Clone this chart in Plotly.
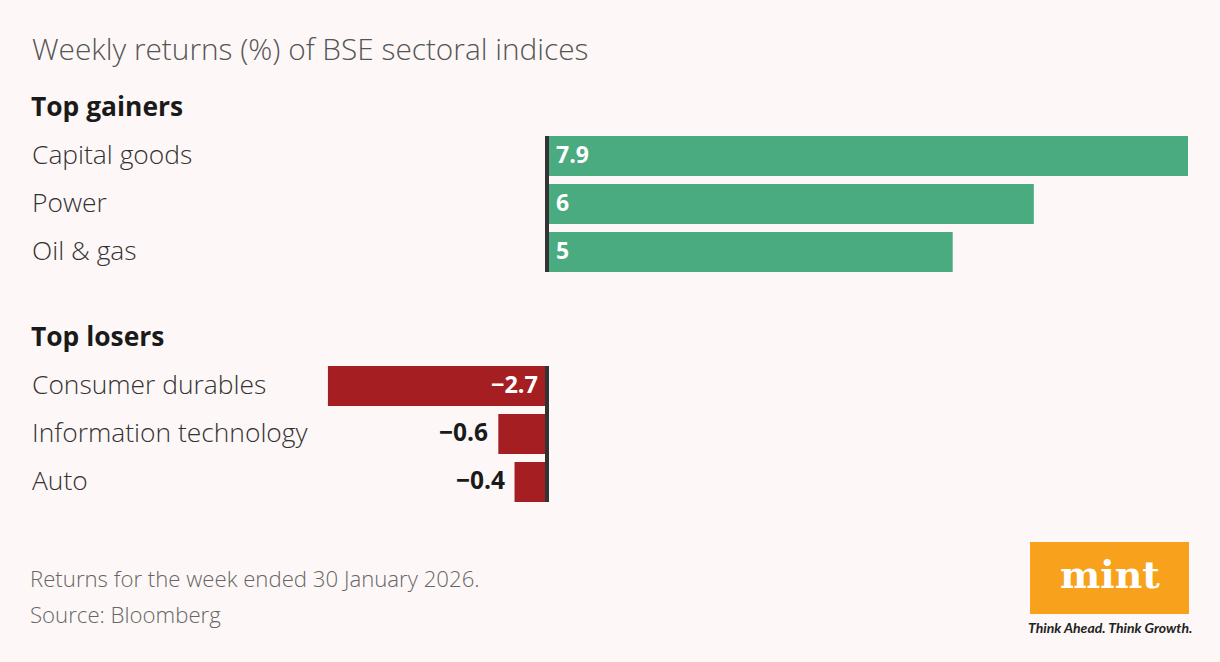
import plotly.graph_objects as go

W, H = 1220, 662

gainers = ["Capital goods", "Power", "Oil & gas"]
gainer_values = [7.9, 6, 5]
losers = ["Consumer durables", "Information technology", "Auto"]
loser_values = [-2.7, -0.6, -0.4]

title = "Weekly returns (%) of BSE sectoral indices"
note = "Returns for the week ended 30 January 2026."
source = "Source: Bloomberg"

BG = "#fdf8f7"
GREEN = "#4aab80"
RED = "#a41e22"
FONT = "Open Sans"


def px(x):
    return x / W


def py(y):
    return 1 - y / H


def fmt(v):
    s = ("%g" % abs(v))
    return ("\u2212" + s) if v < 0 else s


fig = go.Figure()
fig.add_trace(go.Bar(y=gainers, x=gainer_values, orientation="h", marker_color=GREEN,
                     marker_line_width=0,
                     xaxis="x", yaxis="y", hoverinfo="skip", showlegend=False))
fig.add_trace(go.Bar(y=losers, x=loser_values, orientation="h", marker_color=RED,
                     marker_line_width=0,
                     xaxis="x2", yaxis="y2", hoverinfo="skip", showlegend=False))

# x scale: 0 at 547 px, 7.9 at 1188 px
scale = (1188 - 547) / 7.9
xr = [-547 / scale, (W - 547) / scale]

xcommon = dict(range=xr, domain=[0, 1], showgrid=False, showticklabels=False,
               showline=False, zeroline=False, fixedrange=True)
ycommon = dict(range=[2.4167, -0.4167], showgrid=False, showticklabels=False,
               showline=False, zeroline=False, ticks="", fixedrange=True)

annotations = []
annotations.append(dict(text=title, x=px(30), y=py(48), xref="paper", yref="paper",
                        xanchor="left", yanchor="middle", showarrow=False,
                        font=dict(family=FONT, size=29.8, color="#555555", weight=300)))
annotations.append(dict(text="<b>Top gainers</b>", x=px(29), y=py(106), xref="paper", yref="paper",
                        xanchor="left", yanchor="middle", showarrow=False,
                        font=dict(family=FONT, size=26.4, color="#1a1a1a")))
annotations.append(dict(text="<b>Top losers</b>", x=px(29), y=py(336), xref="paper", yref="paper",
                        xanchor="left", yanchor="middle", showarrow=False,
                        font=dict(family=FONT, size=26.4, color="#1a1a1a")))

for cats, vals, xa, ya in [(gainers, gainer_values, "x", "y"), (losers, loser_values, "x2", "y2")]:
    for c, v in zip(cats, vals):
        annotations.append(dict(text=c, x=px(29.5), y=c, xref="paper", yref=ya,
                                xanchor="left", yanchor="middle", yshift=2, showarrow=False,
                                font=dict(family=FONT, size=26.4, color="#333333", weight=300)))
        if v >= 0:
            annotations.append(dict(text="<b>%s</b>" % fmt(v), x=0, y=c, xref=xa, yref=ya,
                                    xanchor="left", yanchor="middle", xshift=7, yshift=2,
                                    showarrow=False,
                                    font=dict(family=FONT, size=23, color="white")))
        elif abs(v) > 1:
            annotations.append(dict(text="<b>%s</b>" % fmt(v), x=0, y=c, xref=xa, yref=ya,
                                    xanchor="right", yanchor="middle", xshift=-7, yshift=2,
                                    showarrow=False,
                                    font=dict(family=FONT, size=23.5, color="white")))
        else:
            annotations.append(dict(text="<b>%s</b>" % fmt(v), x=v, y=c, xref=xa, yref=ya,
                                    xanchor="right", yanchor="middle", xshift=-8, yshift=2,
                                    showarrow=False,
                                    font=dict(family=FONT, size=24.5, color="#1a1a1a")))

annotations.append(dict(text=note, x=px(28), y=py(578), xref="paper", yref="paper",
                        xanchor="left", yanchor="middle", showarrow=False,
                        font=dict(family=FONT, size=22.2, color="#666666", weight=300)))
annotations.append(dict(text=source, x=px(28), y=py(614), xref="paper", yref="paper",
                        xanchor="left", yanchor="middle", showarrow=False,
                        font=dict(family=FONT, size=22.2, color="#666666", weight=300)))

# logo
annotations.append(dict(text="<b>mint</b>", x=px(1110), y=py(574), xref="paper", yref="paper",
                        xanchor="center", yanchor="middle", showarrow=False,
                        font=dict(family="DejaVu Serif", size=38, color="white")))
annotations.append(dict(text="<b><i>Think Ahead. Think Growth.</i></b>", x=px(1110), y=py(627),
                        xref="paper", yref="paper", xanchor="center", yanchor="middle",
                        showarrow=False, font=dict(family="Lato", size=14, color="#222222")))

shapes = [
    dict(type="rect", xref="paper", yref="paper", x0=px(1030), x1=px(1189),
         y0=py(614), y1=py(542), fillcolor="#f8a11c", line=dict(width=0), layer="below"),
    dict(type="line", xref="x", yref="y domain", x0=0, x1=0, y0=0, y1=1,
         line=dict(color="#333333", width=4), layer="above"),
    dict(type="line", xref="x2", yref="y2 domain", x0=0, x1=0, y0=0, y1=1,
         line=dict(color="#333333", width=4), layer="above"),
]

fig.update_layout(
    width=W, height=H,
    margin=dict(l=0, r=0, t=0, b=0),
    paper_bgcolor=BG, plot_bgcolor=BG,
    bargap=0.1667,
    xaxis=dict(**xcommon, anchor="y"),
    xaxis2=dict(**xcommon, anchor="y2"),
    yaxis=dict(**ycommon, domain=[py(272), py(136)], anchor="x"),
    yaxis2=dict(**ycommon, domain=[py(502), py(366)], anchor="x2"),
    annotations=annotations,
    shapes=shapes,
    font=dict(family=FONT),
)

fig.write_html("out.html", config={"displayModeBar": False},
               post_script="document.body.style.margin='0';document.body.style.background='%s';" % BG)
